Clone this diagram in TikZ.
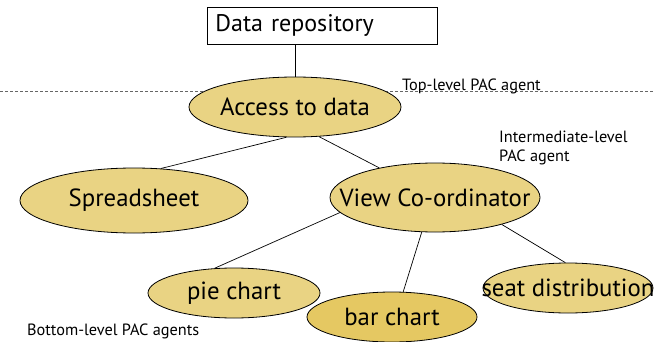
\documentclass[tikz,border=0pt]{standalone}
\usepackage{fontspec}
\setmainfont{PT Sans}
\usetikzlibrary{shapes.geometric}
\definecolor{tan}{HTML}{E9D383}
\definecolor{tandark}{HTML}{E5C862}
\newcommand\zb[1]{\makebox[0pt]{#1}}
\begin{document}
\begin{tikzpicture}[x=1pt,y=-1pt,
  agent/.style={ellipse, draw=black, line width=0.8pt, fill=tan, inner sep=0pt,
    font=\fontsize{24.8}{29}\selectfont},
  conn/.style={draw=black, line width=0.7pt},
  lbl/.style={font=\fontsize{16.3}{19}\selectfont, inner sep=0pt, anchor=west, align=left}]
\useasboundingbox (0,0) rectangle (655,342);
% dashed level line
\coordinate (dl) at (0,91);
\coordinate (dr) at (655,91);
\draw[gray!80!black, line width=0.8pt, dash pattern=on 3pt off 2pt] (dl) -- (dr);
% repository
\node[draw=black, line width=0.8pt, anchor=north west, minimum width=230pt, minimum height=37pt,
  text width=214pt, inner xsep=8pt, inner ysep=0pt, align=left, font=\fontsize{24}{28}\selectfont]
  (repo) at (207,7) {Data repository};
% agents
\node[agent, minimum width=212pt, minimum height=60pt] (acc) at (295,107) {\zb{Access to data}};
\node[agent, minimum width=228pt, minimum height=65pt] (ss) at (134,200.5) {\zb{Spreadsheet}};
\node[agent, minimum width=210pt, minimum height=69pt] (vc) at (435,197.5) {\zb{View Co-ordinator}};
\node[agent, minimum width=172pt, minimum height=50pt] (pie) at (234,293) {\zb{pie chart}};
\node[agent, minimum width=170pt, minimum height=50pt] (seat) at (568,288) {\zb{seat distribution}};
\node[agent, fill=tandark, minimum width=170pt, minimum height=50pt] (bar) at (392,317) {\zb{bar chart}};
% connectors
\draw[conn] (acc.north |- repo.south) -- (acc.north);
\draw[conn] (acc.254) -- (ss.50);
\draw[conn] (acc.309) -- (vc.152);
\draw[conn] (vc.189) -- (pie.128);
\draw[conn] (vc.249) -- (bar.66);
\draw[conn] (vc.338) -- (seat.96);
% labels
\node[lbl, anchor=base west] (ltop) at (402,91) {Top-level PAC agent};
\node[lbl] (lmid) at (499,147.5) {Intermediate-level\\PAC agent};
\node[lbl] (lbot) at (27,331) {Bottom-level PAC agents};
\end{tikzpicture}
\end{document}
